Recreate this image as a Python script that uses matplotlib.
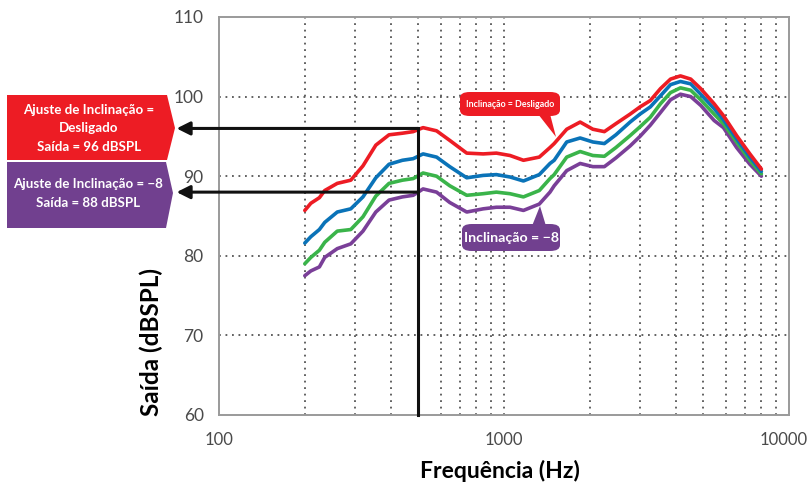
import matplotlib
matplotlib.use("Agg")
import matplotlib.pyplot as plt
import matplotlib.transforms as mtransforms
from matplotlib import font_manager
from matplotlib.patches import Polygon, FancyBboxPatch
from matplotlib.ticker import FixedLocator, LogLocator, NullFormatter

# --- data ---
freq = [200, 210, 225, 235, 260, 290, 320, 355, 395, 440, 480, 520, 580, 645,
        740, 845, 940, 1050, 1170, 1330, 1450, 1500, 1660, 1850, 2050, 2250,
        2470, 2770, 3000, 3260, 3540, 3840, 4160, 4520, 4900, 5460, 5890,
        6550, 7290, 8000]
slope_off = [85.7, 86.6, 87.3, 88.2, 89.1, 89.5, 91.3, 93.9, 95.2, 95.4, 95.6,
             96.1, 95.7, 94.5, 92.9, 92.8, 92.9, 92.6, 92.0, 92.4, 93.6, 94.1,
             95.9, 96.8, 95.9, 95.6, 96.6, 97.8, 98.7, 99.5, 101.0, 102.2,
             102.6, 102.2, 101.0, 99.1, 97.6, 95.1, 92.8, 90.9]
slope_blue = [81.6, 82.4, 83.3, 84.2, 85.5, 85.9, 87.4, 89.8, 91.5, 92.0, 92.2,
              92.8, 92.4, 91.2, 89.8, 90.1, 90.2, 89.9, 89.4, 90.2, 91.6, 92.0,
              94.3, 94.8, 94.3, 94.1, 95.2, 96.8, 97.8, 98.7, 100.1, 101.5,
              101.9, 101.6, 100.3, 98.5, 97.1, 94.7, 92.4, 90.6]
slope_green = [79.0, 79.8, 80.7, 81.7, 83.1, 83.3, 84.9, 87.5, 89.1, 89.5, 89.7,
               90.4, 90.0, 88.8, 87.6, 87.8, 88.0, 87.8, 87.4, 88.2, 89.7, 90.2,
               92.4, 93.1, 92.6, 92.5, 93.6, 95.1, 96.2, 97.4, 99.1, 100.5,
               101.1, 100.8, 99.6, 97.8, 96.6, 94.3, 92.0, 90.3]
slope_minus8 = [77.5, 78.1, 78.6, 79.8, 80.9, 81.5, 83.1, 85.5, 87.0, 87.4, 87.6,
                88.4, 88.0, 86.7, 85.5, 85.9, 86.1, 86.1, 85.7, 86.5, 88.0, 88.8,
                90.7, 91.6, 91.2, 91.2, 92.3, 93.8, 95.0, 96.4, 98.0, 99.6,
                100.3, 100.0, 98.9, 97.0, 96.1, 93.6, 91.5, 90.0]

marker_freq = 500
out_off, out_m8 = 96, 88
arrow_tip_freq = 71

yticks = [60, 70, 80, 90, 100, 110]
xticks = [100, 1000, 10000]

RED = "#ED1C24"
BLUE = "#0A73B8"
GREEN = "#3AB44A"
PURPLE = "#7A3F98"
BANNER_PURPLE = "#71408F"


def pick_font(names, default):
    have = {f.name for f in font_manager.fontManager.ttflist}
    for n in names:
        if n in have:
            return n
    return default


NARROW = pick_font(["Liberation Sans Narrow", "Lato"], "DejaVu Sans")
MAIN = pick_font(["Lato"], "DejaVu Sans")

W, H = 811, 491
fig = plt.figure(figsize=(W / 100, H / 100), dpi=100)


def fx(x):
    return x / W


def fy(y):
    return 1 - y / H


ax = fig.add_axes([fx(219), fy(415), (789 - 219) / W, (415 - 17) / H])

for vals, col in [(slope_minus8, PURPLE), (slope_green, GREEN),
                  (slope_blue, BLUE), (slope_off, RED)]:
    ax.plot(freq, vals, color=col, lw=2.6, solid_joinstyle="round",
            solid_capstyle="round", zorder=3)

ax.set_xscale("log")
ax.set_xlim(100, 10000)
ax.set_ylim(60, 110)
ax.xaxis.set_major_locator(FixedLocator(xticks))
ax.xaxis.set_minor_locator(LogLocator(base=10, subs=range(2, 10)))
ax.xaxis.set_minor_formatter(NullFormatter())
ax.set_xticks(xticks, [str(t) for t in xticks])
ax.set_yticks(yticks)

grid_kw = dict(color="#555555", lw=1.3, linestyle=(0, (1, 2.6)))
for f in [m * 10 ** d for d in (2, 3) for m in range(2, 10)]:
    ax.axvline(f, zorder=1, **grid_kw)
ax.axvline(1000, zorder=1, **grid_kw)
for y in yticks[1:-1]:
    ax.axhline(y, zorder=1, **grid_kw)

for s in ax.spines.values():
    s.set_color("#9a9a9a")
    s.set_linewidth(1.4)
ax.tick_params(which="both", length=0)
ax.tick_params(axis="y", pad=11, labelsize=12.5, labelcolor="#4a4a4a")
ax.tick_params(axis="x", pad=12, labelsize=12, labelcolor="#4a4a4a")
for lab in ax.get_xticklabels() + ax.get_yticklabels():
    lab.set_family(NARROW)
# the last x label sits against the figure edge; nudge it in a little
last = ax.get_xticklabels()[-1]
last.set_transform(last.get_transform() +
                   mtransforms.ScaledTranslation(-5 / 100, 0, fig.dpi_scale_trans))

fig.text(fx(500), fy(471), "Frequência (Hz)", fontsize=16.5,
         fontweight="bold", family=MAIN, ha="center", va="center")
fig.text(fx(151), fy(342), "Saída (dBSPL)", fontsize=17.5, rotation=90,
         fontweight="bold", family=MAIN, ha="center", va="center")

# marker line at 500 Hz and the two arrows out to the left
ax.plot([marker_freq, marker_freq], [out_off, 60], color="#111111", lw=2.2,
        zorder=4, clip_on=False)
for lvl in (out_off, out_m8):
    ax.annotate("", xy=(arrow_tip_freq, lvl), xytext=(marker_freq, lvl),
                arrowprops=dict(arrowstyle="-|>", color="#111111", lw=2.2,
                                mutation_scale=20, shrinkA=0, shrinkB=0),
                annotation_clip=False, zorder=4)

# banners on the left
red_banner = [(7, 95), (167, 95), (175, 128), (167, 160), (7, 160)]
purple_banner = [(7, 162), (166, 162), (173, 193), (166, 228), (7, 228)]
for pts, col in [(red_banner, RED), (purple_banner, BANNER_PURPLE)]:
    fig.patches.append(Polygon([(fx(x), fy(y)) for x, y in pts], closed=True,
                               transform=fig.transFigure, color=col, lw=0))

txt_kw = dict(color="white", fontweight="bold", family=NARROW, ha="center",
              va="center", fontsize=9.6)
fig.text(fx(89), fy(110), "Ajuste de Inclinação =", **txt_kw)
fig.text(fx(89), fy(128), "Desligado", **txt_kw)
fig.text(fx(89), fy(147), "Saída = 96 dBSPL", **txt_kw)
fig.text(fx(88), fy(184), "Ajuste de Inclinação = −8", **txt_kw)
fig.text(fx(88), fy(203), "Saída = 88 dBSPL", **txt_kw)


# callouts inside the plot
def callout(x0, y0, x1, y1, tail, col, text, size):
    box = FancyBboxPatch((fx(x0), fy(y1)), fx(x1 - x0), (y1 - y0) / H,
                         boxstyle="round,pad=0,rounding_size=0.012",
                         transform=fig.transFigure, color=col, lw=0, zorder=5)
    fig.patches.append(box)
    fig.patches.append(Polygon([(fx(x), fy(y)) for x, y in tail], closed=True,
                               transform=fig.transFigure, color=col, lw=0,
                               zorder=5))
    fig.text(fx((x0 + x1) / 2), fy((y0 + y1) / 2 + 0.5), text, color="white",
             fontweight="bold", family=NARROW, ha="center", va="center",
             fontsize=size, zorder=6)


callout(460, 92, 560, 116, [(538, 114), (550, 114), (556, 137)], RED,
        "Inclinação = Desligado", 6.4)
callout(462, 224, 560, 251, [(532, 226), (546, 226), (540, 206)], BANNER_PURPLE,
        "Inclinação = −8", 10.2)

fig.savefig("out.png", dpi=100)
